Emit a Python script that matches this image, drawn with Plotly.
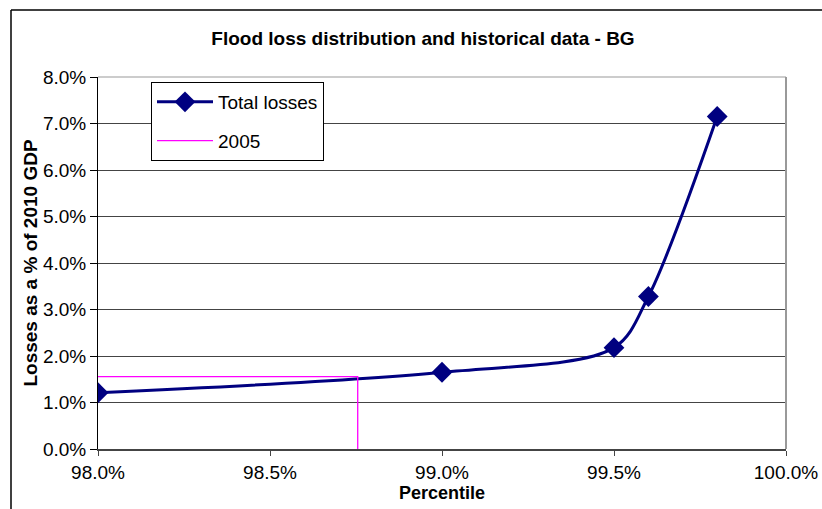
import plotly.graph_objects as go

# Data
percentiles = [98.0, 99.0, 99.5, 99.6, 99.8]
total_losses = [1.21, 1.65, 2.18, 3.28, 7.15]

hist_x = [98.0, 98.755, 98.755]
hist_y = [1.555, 1.555, 0.0]

x_ticks = [98.0, 98.5, 99.0, 99.5, 100.0]
y_ticks = [0, 1, 2, 3, 4, 5, 6, 7, 8]

FONT = "Arial, Liberation Sans, sans-serif"

W, H = 822, 509
L, T, R, B = 98, 77, 36, 60

fig = go.Figure()
fig.add_trace(go.Scatter(
    x=percentiles, y=total_losses, name="Total losses",
    mode="lines+markers", legendgroup="a",
    line=dict(color="#000080", width=3, shape="spline", smoothing=0.9),
    marker=dict(symbol="diamond", size=16, color="#000080"),
))
fig.add_trace(go.Scatter(
    x=hist_x, y=hist_y, name="2005", mode="lines", legendgroup="b",
    line=dict(color="#FF00FF", width=1.3),
))

fig.update_layout(
    width=W, height=H,
    margin=dict(l=L, r=R, t=T, b=B, autoexpand=False),
    paper_bgcolor="white", plot_bgcolor="white",
    font=dict(family=FONT, size=18, color="black"),
    title=dict(text="<b>Flood loss distribution and historical data - BG</b>",
               x=423/W, xanchor="center", y=1-38/H, yanchor="middle",
               font=dict(size=19, family=FONT)),
    showlegend=True,
    legend=dict(x=(151-98)/688, y=(449-82)/372, xanchor="left", yanchor="top",
                bgcolor="white", bordercolor="black", borderwidth=1,
                font=dict(size=19, family=FONT), traceorder="grouped",
                tracegroupgap=11, itemwidth=56, entrywidth=183),
    xaxis=dict(range=[98, 100], tickvals=x_ticks,
               ticktext=[f"{v:.1f}%" for v in x_ticks],
               showgrid=False, zeroline=False, automargin=False,
               showline=True, linecolor="#444", linewidth=2,
               ticks="outside", ticklen=5, tickcolor="#444",
               tickfont=dict(size=19),
               title=dict(text="<b>Percentile</b>", font=dict(size=18), standoff=0)),
    yaxis=dict(range=[0, 8], tickvals=y_ticks,
               ticktext=[f"{v:.1f}%" for v in y_ticks],
               showgrid=True, gridcolor="#444", gridwidth=1, zeroline=False,
               automargin=True,
               showline=True, linecolor="black", linewidth=1,
               ticks="outside", ticklen=7, tickcolor="black",
               tickfont=dict(size=19),
               title=dict(text="<b>Losses as a % of 2010 GDP</b>", font=dict(size=19), standoff=0)),
)

# plot-area border (right side and top, grey)
fig.add_shape(type="line", xref="paper", yref="paper", x0=1, x1=1, y0=0, y1=1,
              line=dict(color="#999", width=2))
fig.add_shape(type="line", xref="paper", yref="paper", x0=0, x1=1, y0=1, y1=1,
              line=dict(color="#999", width=1))
# chart-area outer border (top and left edges; right/bottom lie outside the picture)
fig.add_shape(type="line", xref="paper", yref="paper",
              x0=(11-98)/688, x1=1.1, y0=(449-10)/372, y1=(449-10)/372,
              line=dict(color="black", width=1.5), layer="below")
fig.add_shape(type="line", xref="paper", yref="paper",
              x0=(11-98)/688, x1=(11-98)/688, y0=-0.3, y1=(449-10)/372,
              line=dict(color="black", width=1.5), layer="below")

fig.write_html("out.html", config={"displayModeBar": False},
               post_script="document.body.style.margin='0';document.body.style.overflow='hidden';")
